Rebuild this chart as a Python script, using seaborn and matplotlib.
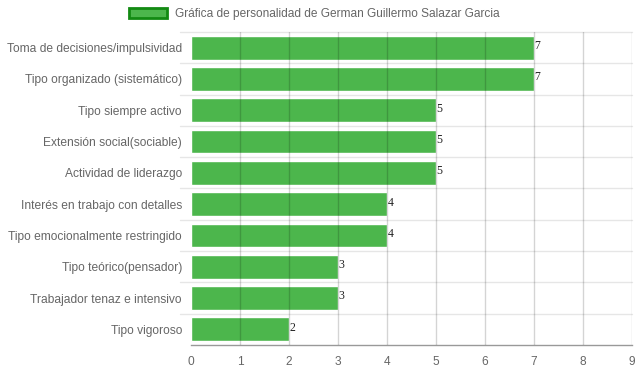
import seaborn as sns
import matplotlib.pyplot as plt
import pandas as pd
from matplotlib.patches import Patch

# data
rasgos = ['Toma de decisiones/impulsividad', 'Tipo organizado (sistemático)',
          'Tipo siempre activo', 'Extensión social(sociable)',
          'Actividad de liderazgo', 'Interés en trabajo con detalles',
          'Tipo emocionalmente restringido', 'Tipo teórico(pensador)',
          'Trabajador tenaz e intensivo', 'Tipo vigoroso']
puntajes = [7, 7, 5, 5, 5, 4, 4, 3, 3, 2]
titulo = 'Gráfica de personalidad de German Guillermo Salazar Garcia'

df = pd.DataFrame({'rasgo': rasgos, 'puntaje': puntajes})

sns.set_style('white')
plt.rcParams['font.family'] = ['Liberation Sans', 'DejaVu Sans']

fig = plt.figure(figsize=(6.39, 3.72), dpi=100)
ax = fig.add_axes([191 / 639, 1 - 345 / 372, (632 - 191) / 639, (345 - 32) / 372])

sns.barplot(data=df, x='puntaje', y='rasgo', color='#4cb64c', width=0.76,
            saturation=1, ax=ax, zorder=2)

ax.set_xlim(0, 9)
ax.set_ylim(len(rasgos) - 0.5, -0.5)
ax.set_xticks(range(10))
ax.set_xlabel('')
ax.set_ylabel('')

# vertical grid drawn over bars, horizontal between categories
for x in range(1, 10):
    ax.axvline(x, color='#000000', alpha=0.17, lw=1, zorder=3)
for y in [i - 0.5 for i in range(len(rasgos))]:
    ax.plot([-0.22, 9], [y, y], color='#e6e6e6', lw=1, zorder=1, clip_on=False)

for s in ['top', 'right']:
    ax.spines[s].set_visible(False)
ax.spines['left'].set_visible(False)
ax.spines['bottom'].set_color('#999999')
ax.spines['bottom'].set_linewidth(1)

ax.tick_params(axis='x', colors='#999999', length=6, width=1, labelsize=8.6,
               labelcolor='#666666', pad=2)
ax.tick_params(axis='y', length=0, labelsize=8.65, labelcolor='#666666', pad=6.5)

for i, v in enumerate(puntajes):
    ax.text(v + 0.01, i - 0.05, str(v), ha='left', va='center', fontsize=8.5,
            family='Liberation Serif', color='#222222', zorder=4)

handle = Patch(facecolor='#4cb64c', edgecolor='#128a12', linewidth=2)
fig.legend([handle], [titulo], loc='center', bbox_to_anchor=(0.492, 1 - 14 / 372),
           frameon=False, fontsize=8.6, labelcolor='#666666', handlelength=3.2,
           handleheight=0.9, handletextpad=0.7)

fig.savefig('out.png', dpi=100)
